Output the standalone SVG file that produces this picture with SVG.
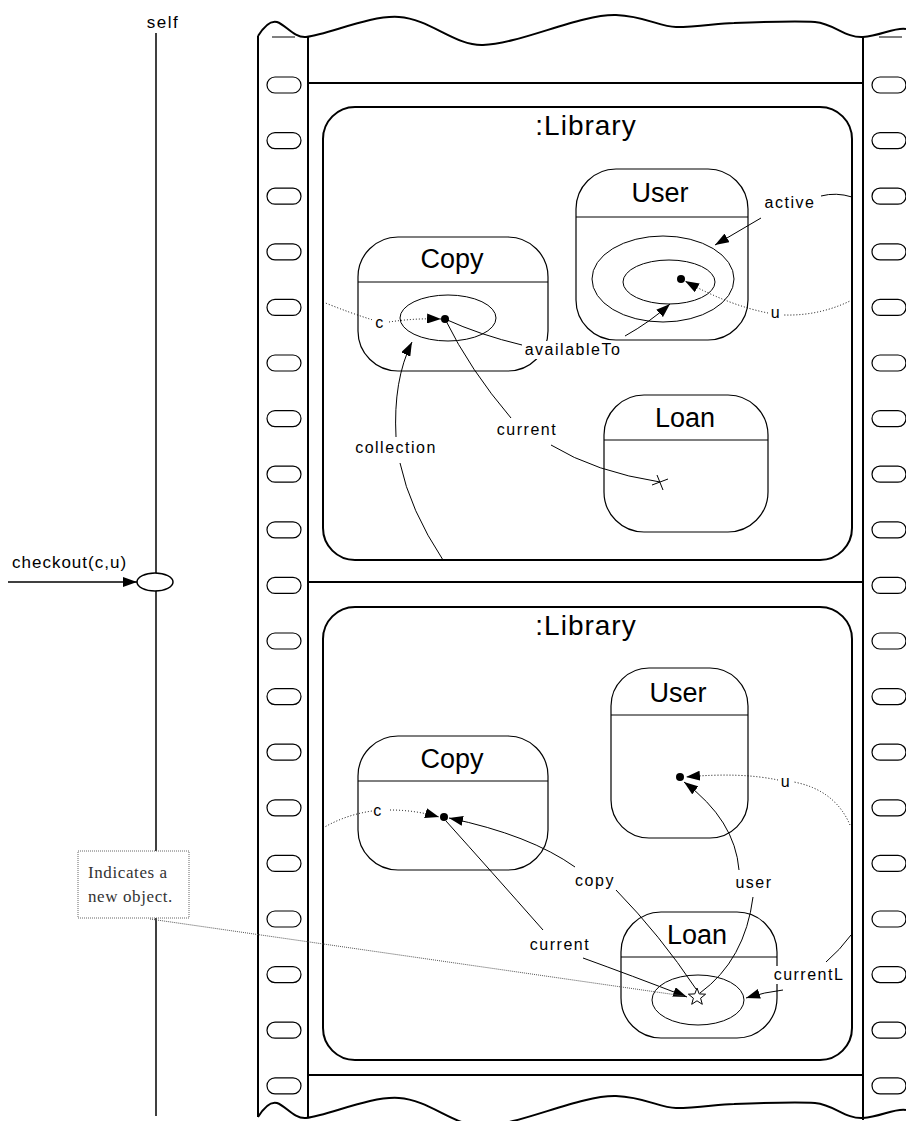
<svg xmlns="http://www.w3.org/2000/svg" width="906" height="1121" viewBox="0 0 906 1121">
<style>
.film{fill:none;stroke:#000;stroke-width:2}
.hole{fill:#fff;stroke:#000;stroke-width:1.2}
.lib{fill:none;stroke:#000;stroke-width:2}
.box{fill:#fff;stroke:#000;stroke-width:1.2}
.ln{fill:none;stroke:#000;stroke-width:1}
.dot{fill:none;stroke:#000;stroke-width:1;stroke-dasharray:1 2}
.arr{marker-end:url(#ah)}
.title{font-family:"Liberation Sans",Arial,sans-serif;font-size:27px;text-anchor:middle;fill:#000}
.libt{font-family:"Liberation Sans",Arial,sans-serif;font-size:28px;letter-spacing:1px;text-anchor:middle;fill:#000}
.lbl{font-family:"Liberation Sans",Arial,sans-serif;font-size:16px;letter-spacing:1.5px;text-anchor:middle;fill:#000}
.note{font-family:"Liberation Serif","Times New Roman",serif;font-size:17px;letter-spacing:0.6px;fill:#333}
.bg{fill:#fff;stroke:none}
</style>
<defs>
<marker id="ah" viewBox="0 0 14 10" refX="14" refY="5" markerWidth="14" markerHeight="10" markerUnits="userSpaceOnUse" orient="auto"><path d="M0,0 L14,5 L0,10 z" fill="#000"/></marker>
<path id="wave" d="M258,36 C263,28 270,20 277,22 C286,25 294,38 306,37 C330,34 370,15 399,17 C430,19 455,46 483,45 C520,44 580,14 616,15 C645,16 660,27 676,27 C700,27 718,23 734,23 C760,22 800,21 815,22 C835,24 845,38 863,37 C880,36 895,27 906,29"/>
<rect id="h" width="34" height="16" rx="8" ry="8"/>
</defs>
<rect width="906" height="1121" fill="#fff"/>

<g id="lifeline">
<text x="163" y="28" class="lbl" style="font-size:17px">self</text>
<line x1="156" y1="33" x2="156" y2="1116" stroke="#000" stroke-width="1.5"/>
<text x="12" y="568" class="lbl" style="font-size:17px;text-anchor:start;letter-spacing:1px">checkout(c,u)</text>
<line x1="8" y1="582" x2="137" y2="582" stroke="#000" stroke-width="1.5" class="arr"/>
<ellipse cx="155" cy="582" rx="18" ry="9" fill="#fff" stroke="#000" stroke-width="1.5"/>
</g>

<g id="filmstrip">
<use href="#wave" class="film"/>
<use href="#wave" class="film" transform="translate(0,1081)"/>
<line x1="258" y1="36" x2="258" y2="1117" class="film"/>
<line x1="308" y1="37" x2="308" y2="1118" class="film"/>
<line x1="863" y1="37" x2="863" y2="1120" class="film"/>
<line x1="272" y1="37" x2="295" y2="37" stroke="#000" stroke-width="1"/>
<line x1="879" y1="37" x2="902" y2="37" stroke="#000" stroke-width="1"/>
<line x1="308" y1="83" x2="863" y2="83" class="film"/>
<line x1="308" y1="582" x2="863" y2="582" class="film"/>
<line x1="308" y1="1075" x2="863" y2="1075" class="film"/>
<g class="hole">
<use href="#h" x="267" y="77"/><use href="#h" x="267" y="132.6"/><use href="#h" x="267" y="188.2"/><use href="#h" x="267" y="243.8"/><use href="#h" x="267" y="299.4"/><use href="#h" x="267" y="355"/><use href="#h" x="267" y="410.6"/><use href="#h" x="267" y="466.2"/><use href="#h" x="267" y="521.8"/><use href="#h" x="267" y="577.4"/><use href="#h" x="267" y="633"/><use href="#h" x="267" y="688.6"/><use href="#h" x="267" y="744.2"/><use href="#h" x="267" y="799.8"/><use href="#h" x="267" y="855.4"/><use href="#h" x="267" y="911"/><use href="#h" x="267" y="966.6"/><use href="#h" x="267" y="1022.2"/><use href="#h" x="267" y="1077.8"/>
<use href="#h" x="872" y="77"/><use href="#h" x="872" y="132.6"/><use href="#h" x="872" y="188.2"/><use href="#h" x="872" y="243.8"/><use href="#h" x="872" y="299.4"/><use href="#h" x="872" y="355"/><use href="#h" x="872" y="410.6"/><use href="#h" x="872" y="466.2"/><use href="#h" x="872" y="521.8"/><use href="#h" x="872" y="577.4"/><use href="#h" x="872" y="633"/><use href="#h" x="872" y="688.6"/><use href="#h" x="872" y="744.2"/><use href="#h" x="872" y="799.8"/><use href="#h" x="872" y="855.4"/><use href="#h" x="872" y="911"/><use href="#h" x="872" y="966.6"/><use href="#h" x="872" y="1022.2"/><use href="#h" x="872" y="1077.8"/>
</g>
</g>

<g id="library1">
<rect x="323" y="107" width="529" height="453" rx="32" ry="32" class="lib"/>
<text x="586" y="135" class="libt">:Library</text>
</g>
<g id="copy1">
<rect x="358" y="237" width="190" height="134" rx="40" ry="40" class="box"/>
<line x1="358" y1="282" x2="548" y2="282" class="ln" stroke-width="1.2"/>
<text x="452" y="268" class="title">Copy</text>
<ellipse cx="448" cy="318" rx="48" ry="23" class="ln"/>
<circle cx="445" cy="319" r="4" fill="#000"/>
</g>
<g id="user1">
<rect x="576" y="169" width="172" height="171" rx="40" ry="40" class="box"/>
<line x1="576" y1="217" x2="748" y2="217" class="ln" stroke-width="1.2"/>
<text x="660" y="202" class="title">User</text>
<ellipse cx="663" cy="279" rx="71" ry="43" class="ln"/>
<ellipse cx="669" cy="282" rx="46" ry="22" class="ln"/>
<circle cx="681" cy="279" r="4" fill="#000"/>
</g>
<g id="loan1">
<rect x="604" y="395" width="164" height="137" rx="40" ry="40" class="box"/>
<line x1="604" y1="440" x2="768" y2="440" class="ln" stroke-width="1.2"/>
<text x="685" y="427" class="title">Loan</text>
</g>

<g id="library2">
<rect x="323" y="607" width="529" height="453" rx="32" ry="32" class="lib"/>
<text x="586" y="635" class="libt">:Library</text>
</g>
<g id="user2">
<rect x="611" y="668" width="137" height="170" rx="38" ry="38" class="box"/>
<line x1="611" y1="715" x2="748" y2="715" class="ln" stroke-width="1.2"/>
<text x="678" y="702" class="title">User</text>
<circle cx="680" cy="777" r="4" fill="#000"/>
</g>
<g id="copy2">
<rect x="358" y="736" width="190" height="134" rx="40" ry="40" class="box"/>
<line x1="358" y1="781" x2="548" y2="781" class="ln" stroke-width="1.2"/>
<text x="452" y="768" class="title">Copy</text>
<circle cx="444" cy="817" r="4" fill="#000"/>
</g>
<g id="loan2">
<rect x="621" y="912" width="156" height="126" rx="40" ry="40" class="box"/>
<line x1="621" y1="957" x2="777" y2="957" class="ln" stroke-width="1.2"/>
<text x="697" y="944" class="title">Loan</text>
<ellipse cx="698" cy="1000" rx="46" ry="25" class="ln"/>
<polygon points="697,988 699.2,993.9 705.6,994.2 700.6,998.2 702.3,1004.3 697,1000.8 691.7,1004.3 693.4,998.2 688.4,994.2 694.8,993.9" fill="#fff" stroke="#000" stroke-width="1"/>
</g>

<g id="note">
<rect x="78" y="851" width="111" height="67" fill="#fff" stroke="#666" stroke-width="1" stroke-dasharray="1 1"/>
<text x="88" y="878" class="note">Indicates a</text>
<text x="88" y="902" class="note">new object.</text>
</g>

<g id="connectors">
<!-- top frame -->
<path d="M323,302 Q350,313 373,320" class="dot"/>
<path d="M389,322 Q415,318 441,319" class="dot arr"/>
<path d="M445,319 Q480,335 522,345" class="ln"/>
<path d="M625,336 Q650,322 670,304" class="ln arr"/>
<path d="M761,218 L715,245" class="ln arr"/>
<path d="M821,196 Q836,192 852,197" class="ln"/>
<path d="M852,300 Q820,316 784,315" class="dot"/>
<path d="M768,313 Q728,305 685,281" class="dot arr"/>
<path d="M445,319 Q470,370 511,418" class="ln"/>
<path d="M551,445 Q595,472 660,482" class="ln"/>
<path d="M652,485 L668,479 M657,475 L663,490" class="ln"/>
<path d="M443,560 Q410,510 400,463" class="ln"/>
<path d="M396,437 Q393,380 412,342" class="ln arr"/>
<!-- bottom frame -->
<path d="M323,828 Q345,815 372,811" class="dot"/>
<path d="M390,810 Q415,810 439,817" class="dot arr"/>
<path d="M850,825 Q835,790 794,782" class="dot"/>
<path d="M778,780 Q740,772 686,777" class="dot arr"/>
<path d="M739,870 Q735,820 684,782" class="ln arr"/>
<path d="M753,897 Q745,960 700,993" class="ln"/>
<path d="M575,867 Q530,835 449,818" class="ln arr"/>
<path d="M616,890 Q660,935 696,989" class="ln"/>
<path d="M446,821 Q490,870 543,930" class="ln"/>
<path d="M583,958 Q630,975 687,997" class="ln arr"/>
<path d="M783,990 Q765,992 746,998" class="ln arr"/>
<path d="M826,962 Q840,950 851,935" class="ln"/>
<path d="M150,919 L684,996" stroke="#555" stroke-width="1" stroke-dasharray="1 1" fill="none"/>
</g>

<g id="labels">
<text x="380" y="328" class="lbl">c</text>
<rect x="522" y="341" width="102" height="18" class="bg"/>
<text x="573" y="355" class="lbl">availableTo</text>
<text x="790" y="208" class="lbl">active</text>
<text x="776" y="318" class="lbl">u</text>
<text x="527" y="435" class="lbl">current</text>
<text x="396" y="453" class="lbl">collection</text>
<text x="378" y="816" class="lbl">c</text>
<text x="786" y="787" class="lbl">u</text>
<text x="595" y="886" class="lbl">copy</text>
<text x="754" y="888" class="lbl">user</text>
<text x="560" y="950" class="lbl">current</text>
<rect x="769" y="966" width="80" height="18" class="bg"/>
<text x="809" y="980" class="lbl">currentL</text>
</g>
</svg>
